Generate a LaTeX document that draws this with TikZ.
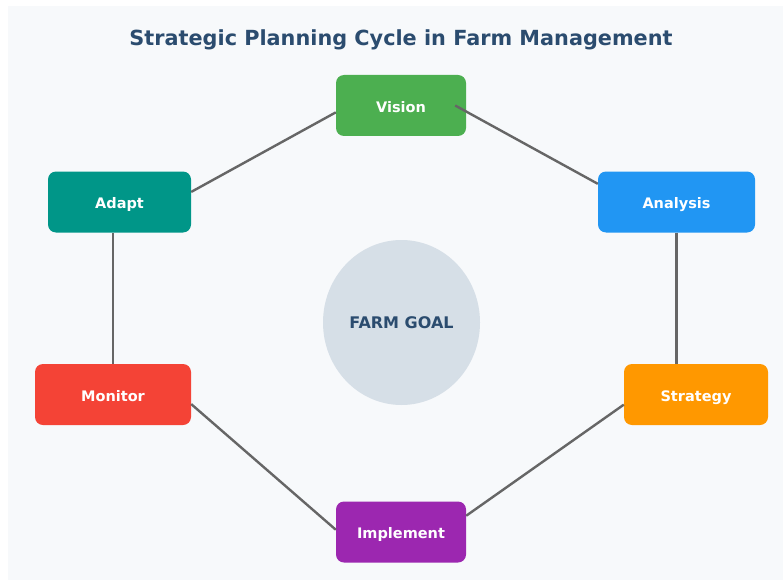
\documentclass[tikz,border=0pt]{standalone}
\usepackage{fontspec}
\setmainfont{DejaVu Sans}
\usepackage{tikz}
\usetikzlibrary{calc,shapes.geometric}

\definecolor{pagebg}{HTML}{F7F9FB}
\definecolor{titleblue}{HTML}{2B4C6F}
\definecolor{goalgray}{HTML}{D6DFE7}
\definecolor{linkgray}{HTML}{666666}
\definecolor{visiongreen}{HTML}{4CAF50}
\definecolor{analysisblue}{HTML}{2196F3}
\definecolor{strategyorange}{HTML}{FF9800}
\definecolor{implementpurple}{HTML}{9C27B0}
\definecolor{monitorred}{HTML}{F44336}
\definecolor{adaptteal}{HTML}{009688}

\begin{document}
\begin{tikzpicture}[x=1pt,y=-1pt]
		\tikzset{stage/.style={rounded corners=8pt,fill=#1,text=white,minimum height=61pt,inner sep=0pt,text height=13.4pt,text depth=0pt,font=\bfseries\fontsize{14.5}{16}\selectfont},
			link/.style={draw=linkgray,line width=2.4pt}};
		\useasboundingbox (0,0) rectangle (783,580);
		\fill[white] (0,0) rectangle (783,580);
		\fill[pagebg] (8,6) rectangle (783,580);
		\node[text=titleblue,font=\bfseries\fontsize{20.8}{24}\selectfont] (title) at (401,40) {Strategic Planning Cycle in Farm Management};
		% the six stages of the cycle
		\node[stage=visiongreen,minimum width=130pt] (vision) at (401,105.5) {Vision};
		\node[stage=analysisblue,minimum width=157pt] (analysis) at (676.5,202) {Analysis};
		\node[stage=strategyorange,minimum width=144pt] (strategy) at (696,394.5) {Strategy};
		\node[stage=implementpurple,minimum width=130pt] (implement) at (401,532) {Implement};
		\node[stage=monitorred,minimum width=156pt] (monitor) at (113,394.5) {Monitor};
		\node[stage=adaptteal,minimum width=143pt] (adapt) at (119.5,202) {Adapt};
		% goal in the middle
		\node[ellipse,fill=goalgray,minimum width=157pt,minimum height=165pt,inner sep=0pt,text=titleblue,font=\bfseries\fontsize{16}{18}\selectfont] (goal) at (401.5,322.5) {FARM GOAL};
		% connectors
		\draw[link] ([xshift=-11pt]vision.east) -- (analysis.167.8);
		\draw[link] (analysis.south) -- (analysis.south |- strategy.north);
		\draw[link] (strategy.188.3) -- (implement.14.7);
		\draw[link] (implement.178) -- (monitor.-7.7);
		\draw[link] (monitor.north) -- (monitor.north |- adapt.south);
		\draw[link] (adapt.8.7) -- (vision.186.6);
	\end{tikzpicture}
\end{document}
